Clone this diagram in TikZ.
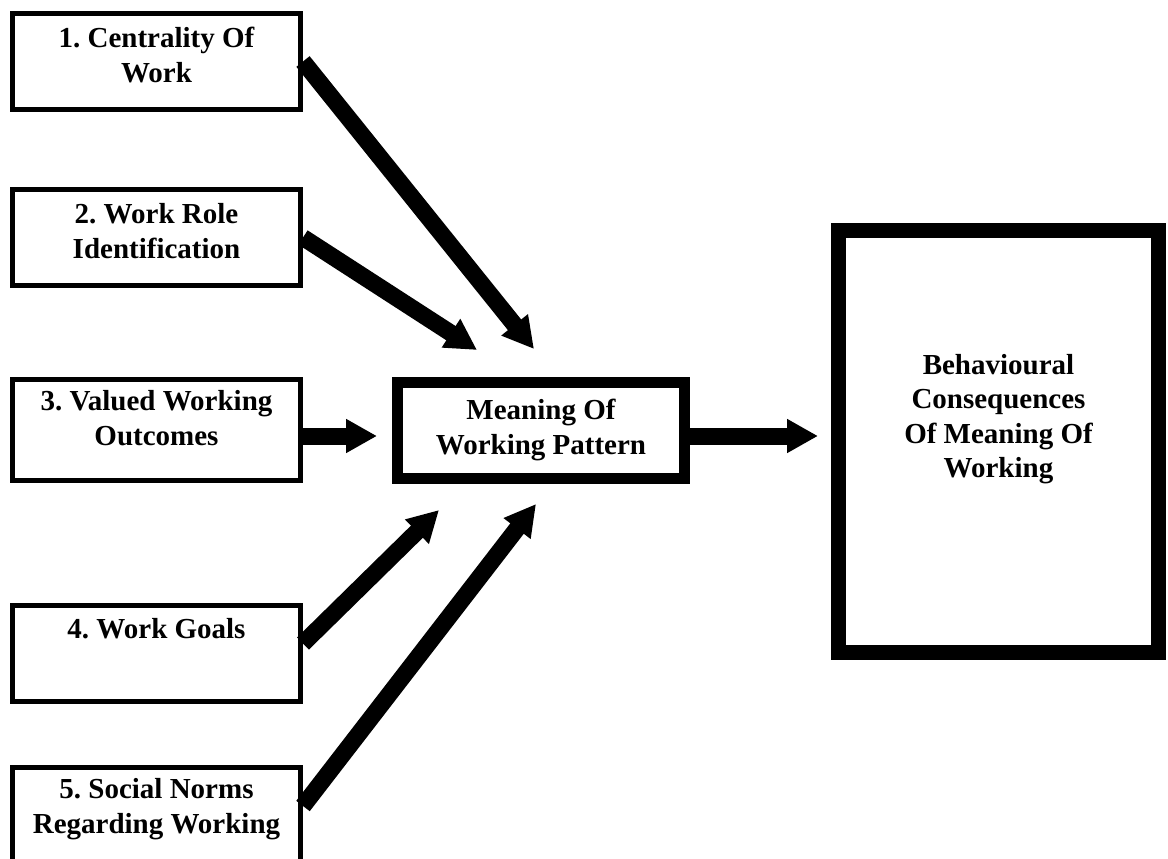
\documentclass[tikz,border=0pt]{standalone}
\usepackage{fontspec}
\setmainfont{Liberation Serif}
\frenchspacing
\usetikzlibrary{
  arrows.meta,
  positioning
}
\tikzset{
  factor/.style={draw,line width=5pt,minimum width=288pt,minimum height=96pt,inner sep=0pt},
  core/.style={draw,line width=11pt,minimum width=287pt,minimum height=96pt,inner sep=0pt},
  outcome/.style={draw,line width=15pt,minimum width=320pt,minimum height=422pt,inner sep=0pt},
  txt/.style={font=\bfseries\fontsize{29}{34.5}\selectfont,align=center,inner sep=0pt},
  fat/.style={line width=17pt,-{Triangle[length=31pt,width=32pt]}}
}
\begin{document}
\begin{tikzpicture}[x=1pt,y=-1pt]
  \clip (0,0) rectangle (1168,859);
  % five factors on the left
  \node[factor] (cw) at (156.5,61.5) {};
  \node[factor] (wr) at (156.5,237.5) {};
  \node[factor,minimum height=101pt] (vo) at (156.5,430) {};
  \node[factor] (wg) at (156.5,653.5) {};
  \node[factor] (sn) at (156.5,815.5) {};
  \node[txt] (cwtxt) at (156.5,55)  {1. Centrality Of\\Work};
  \node[txt] (wrtxt) at (156.5,231) {2. Work Role\\Identification};
  \node[txt] (votxt) at (156.5,418) {3. Valued Working\\Outcomes};
  \node[txt] (wgtxt) at (156.5,629) {4. Work Goals};
  \node[txt] (sntxt) at (156.5,809) {5. Social Norms\\Regarding Working};
  % pattern and consequences
  \node[core] (mw) at (541,430.5) {};
  \node[txt] (mwtxt) at (541,430) {Meaning Of\\Working Pattern};
  \node[outcome] (beh) at (998.5,441.5) {};
  \node[txt] (behtxt) at (998.5,419) {Behavioural\\Consequences\\Of Meaning Of\\Working};
  % arrow ends short of the pattern box
  \coordinate (t1) at (534,349);
  \coordinate (t2) at (477,350);
  \coordinate (t4) at (439,510);
  \coordinate (t5) at (536,504);
  \foreach \u/\v in {cw.east/t1,wr.east/t2}
    \draw[fat] (\u) -- (\v);
  \draw[fat] ([yshift=10pt]wg.east) -- (t4);
  \draw[fat] ([yshift=9.5pt]sn.east) -- (t5);
  \draw[fat,shorten >=15pt] ([yshift=-6pt]vo.east) -- ([yshift=-5.5pt]mw.west);
  \draw[fat,shorten >=13pt] ([yshift=-5.5pt]mw.east) -- ([yshift=5.5pt]beh.west);
\end{tikzpicture}
\end{document}
